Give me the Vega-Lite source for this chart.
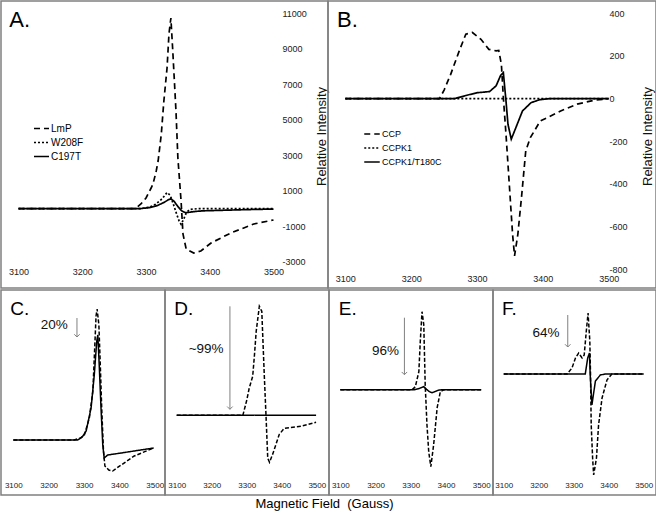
{
  "$schema": "https://vega.github.io/schema/vega-lite/v6.json",
  "padding": 0,
  "config": {
    "view": {"stroke": "#808080", "strokeWidth": 1.5},
    "font": "Liberation Sans",
    "axis": {"grid": false, "domain": false, "ticks": false, "labelFont": "Liberation Sans", "labelColor": "#222", "labelOverlap": false, "labelFlush": false, "titleFont": "Liberation Sans", "titleFontWeight": "normal", "titleColor": "#111", "labelExpr": "toString(datum.value)"},
    "legend": {"symbolType": "stroke", "symbolStrokeColor": "#000", "symbolStrokeWidth": 1.6, "labelFont": "Liberation Sans", "labelColor": "#000", "rowPadding": 0, "labelOffset": 1, "padding": 0},
    "title": {"font": "Liberation Sans", "fontWeight": "normal", "color": "#000"},
    "text": {"font": "Liberation Sans", "color": "#000"}
  },
  "title": {"text": "Magnetic Field\u00a0 (Gauss)", "orient": "bottom", "anchor": "middle", "fontSize": 13, "offset": 2, "dx": -4},
  "spacing": 0,
  "resolve": {"scale": {"strokeDash": "independent"}, "legend": {"strokeDash": "independent"}},
  "vconcat": [
    {
      "spacing": 0,
      "bounds": "flush",
      "resolve": {"scale": {"strokeDash": "independent"}, "legend": {"strokeDash": "independent"}},
      "hconcat": [
        {
          "width": 327, "height": 287,
          "layer": [
            {
              "data": {"values": [
                {"series": "LmP", "gauss": 3100, "intensity": 0}, {"series": "LmP", "gauss": 3150, "intensity": 0}, {"series": "LmP", "gauss": 3200, "intensity": 0}, {"series": "LmP", "gauss": 3250, "intensity": 0}, {"series": "LmP", "gauss": 3283, "intensity": 0}, {"series": "LmP", "gauss": 3292, "intensity": 265}, {"series": "LmP", "gauss": 3300, "intensity": 602}, {"series": "LmP", "gauss": 3308, "intensity": 1165}, {"series": "LmP", "gauss": 3311, "intensity": 1390}, {"series": "LmP", "gauss": 3316, "intensity": 2122}, {"series": "LmP", "gauss": 3319, "intensity": 2685}, {"series": "LmP", "gauss": 3324, "intensity": 4205}, {"series": "LmP", "gauss": 3328, "intensity": 6062}, {"series": "LmP", "gauss": 3333, "intensity": 7920}, {"series": "LmP", "gauss": 3336, "intensity": 9834}, {"series": "LmP", "gauss": 3339, "intensity": 10734}, {"series": "LmP", "gauss": 3342, "intensity": 8876}, {"series": "LmP", "gauss": 3347, "intensity": 5499}, {"series": "LmP", "gauss": 3350, "intensity": 2854}, {"series": "LmP", "gauss": 3355, "intensity": 433}, {"series": "LmP", "gauss": 3358, "intensity": -1424}, {"series": "LmP", "gauss": 3363, "intensity": -2268}, {"series": "LmP", "gauss": 3375, "intensity": -2494}, {"series": "LmP", "gauss": 3386, "intensity": -2381}, {"series": "LmP", "gauss": 3402, "intensity": -1931}, {"series": "LmP", "gauss": 3433, "intensity": -1368}, {"series": "LmP", "gauss": 3469, "intensity": -861}, {"series": "LmP", "gauss": 3500, "intensity": -636},
                {"series": "W208F", "gauss": 3100, "intensity": 0}, {"series": "W208F", "gauss": 3290, "intensity": 0}, {"series": "W208F", "gauss": 3305, "intensity": 80}, {"series": "W208F", "gauss": 3315, "intensity": 250}, {"series": "W208F", "gauss": 3325, "intensity": 550}, {"series": "W208F", "gauss": 3333, "intensity": 910}, {"series": "W208F", "gauss": 3338, "intensity": 750}, {"series": "W208F", "gauss": 3343, "intensity": 250}, {"series": "W208F", "gauss": 3348, "intensity": -300}, {"series": "W208F", "gauss": 3352, "intensity": -700}, {"series": "W208F", "gauss": 3355, "intensity": -880}, {"series": "W208F", "gauss": 3359, "intensity": -600}, {"series": "W208F", "gauss": 3363, "intensity": -250}, {"series": "W208F", "gauss": 3368, "intensity": -50}, {"series": "W208F", "gauss": 3380, "intensity": 0}, {"series": "W208F", "gauss": 3500, "intensity": 0},
                {"series": "C197T", "gauss": 3100, "intensity": 0}, {"series": "C197T", "gauss": 3290, "intensity": 0}, {"series": "C197T", "gauss": 3305, "intensity": 60}, {"series": "C197T", "gauss": 3318, "intensity": 180}, {"series": "C197T", "gauss": 3328, "intensity": 350}, {"series": "C197T", "gauss": 3335, "intensity": 500}, {"series": "C197T", "gauss": 3339, "intensity": 560}, {"series": "C197T", "gauss": 3344, "intensity": 420}, {"series": "C197T", "gauss": 3350, "intensity": 120}, {"series": "C197T", "gauss": 3356, "intensity": -120}, {"series": "C197T", "gauss": 3362, "intensity": -230}, {"series": "C197T", "gauss": 3368, "intensity": -200}, {"series": "C197T", "gauss": 3378, "intensity": -150}, {"series": "C197T", "gauss": 3390, "intensity": -120}, {"series": "C197T", "gauss": 3420, "intensity": -90}, {"series": "C197T", "gauss": 3460, "intensity": -50}, {"series": "C197T", "gauss": 3500, "intensity": -20}
              ]},
              "mark": {"type": "line", "strokeWidth": 1.7, "color": "#000"},
              "encoding": {
                "x": {"field": "gauss", "type": "quantitative", "scale": {"domain": [3072.5, 3585.5], "nice": false, "zero": false}, "axis": {"values": [3100, 3200, 3300, 3400, 3500], "title": null, "offset": -21, "labelPadding": 0, "labelFontSize": 9}},
                "y": {"field": "intensity", "type": "quantitative", "scale": {"domain": [-4464, 11692], "nice": false, "zero": false}, "axis": {"orient": "right", "values": [-3000, -1000, 1000, 3000, 5000, 7000, 9000, 11000], "offset": -46, "labelPadding": 0, "labelFontSize": 9, "title": "Relative Intensity", "titleAngle": 270, "titleFontSize": 13, "titleX": 39, "titleY": 135, "titleAlign": "center", "titleBaseline": "middle"}},
                "strokeDash": {"field": "series", "type": "nominal", "scale": {"domain": ["LmP", "W208F", "C197T"], "range": [[6, 4], [2, 2], [1, 0]]}, "legend": {"title": null, "orient": "none", "legendX": 32, "legendY": 119, "symbolSize": 225, "labelFontSize": 10}}
              }
            },
            {
              "data": {"values": [{"label": "A."}]},
              "mark": {"type": "text", "fontSize": 22, "align": "left", "baseline": "alphabetic"},
              "encoding": {"x": {"datum": 3085.5, "type": "quantitative"}, "y": {"datum": 10228, "type": "quantitative"}, "text": {"field": "label"}}
            }
          ]
        },
        {
          "width": 328, "height": 287,
          "layer": [
            {
              "data": {"values": [
                {"series": "CCP", "gauss": 3100, "intensity": 0}, {"series": "CCP", "gauss": 3150, "intensity": 0}, {"series": "CCP", "gauss": 3200, "intensity": 0}, {"series": "CCP", "gauss": 3243, "intensity": 0}, {"series": "CCP", "gauss": 3250, "intensity": 40}, {"series": "CCP", "gauss": 3260, "intensity": 114}, {"series": "CCP", "gauss": 3273, "intensity": 224}, {"series": "CCP", "gauss": 3283, "intensity": 302}, {"series": "CCP", "gauss": 3293, "intensity": 310}, {"series": "CCP", "gauss": 3306, "intensity": 278}, {"series": "CCP", "gauss": 3318, "intensity": 231}, {"series": "CCP", "gauss": 3329, "intensity": 224}, {"series": "CCP", "gauss": 3333, "intensity": 226}, {"series": "CCP", "gauss": 3337, "intensity": 161}, {"series": "CCP", "gauss": 3340, "intensity": 5}, {"series": "CCP", "gauss": 3344, "intensity": -167}, {"series": "CCP", "gauss": 3349, "intensity": -401}, {"series": "CCP", "gauss": 3354, "intensity": -636}, {"series": "CCP", "gauss": 3357, "intensity": -737}, {"series": "CCP", "gauss": 3362, "intensity": -636}, {"series": "CCP", "gauss": 3368, "intensity": -448}, {"series": "CCP", "gauss": 3374, "intensity": -245}, {"series": "CCP", "gauss": 3381, "intensity": -183}, {"series": "CCP", "gauss": 3396, "intensity": -105}, {"series": "CCP", "gauss": 3427, "intensity": -58}, {"series": "CCP", "gauss": 3452, "intensity": -26}, {"series": "CCP", "gauss": 3477, "intensity": -8}, {"series": "CCP", "gauss": 3500, "intensity": 0},
                {"series": "CCPK1", "gauss": 3100, "intensity": 0}, {"series": "CCPK1", "gauss": 3500, "intensity": 0},
                {"series": "CCPK1/T180C", "gauss": 3100, "intensity": 0}, {"series": "CCPK1/T180C", "gauss": 3266, "intensity": 0}, {"series": "CCPK1/T180C", "gauss": 3286, "intensity": 17}, {"series": "CCPK1/T180C", "gauss": 3301, "intensity": 28}, {"series": "CCPK1/T180C", "gauss": 3319, "intensity": 33}, {"series": "CCPK1/T180C", "gauss": 3329, "intensity": 60}, {"series": "CCPK1/T180C", "gauss": 3336, "intensity": 110}, {"series": "CCPK1/T180C", "gauss": 3340, "intensity": 122}, {"series": "CCPK1/T180C", "gauss": 3344, "intensity": -11}, {"series": "CCPK1/T180C", "gauss": 3347, "intensity": -120}, {"series": "CCPK1/T180C", "gauss": 3352, "intensity": -190}, {"series": "CCPK1/T180C", "gauss": 3359, "intensity": -136}, {"series": "CCPK1/T180C", "gauss": 3369, "intensity": -58}, {"series": "CCPK1/T180C", "gauss": 3382, "intensity": -19}, {"series": "CCPK1/T180C", "gauss": 3395, "intensity": -5}, {"series": "CCPK1/T180C", "gauss": 3410, "intensity": 0}, {"series": "CCPK1/T180C", "gauss": 3500, "intensity": 0}
              ]},
              "mark": {"type": "line", "strokeWidth": 1.7, "color": "#000"},
              "encoding": {
                "x": {"field": "gauss", "type": "quantitative", "scale": {"domain": [3073.7, 3571.8], "nice": false, "zero": false}, "axis": {"values": [3100, 3200, 3300, 3400, 3500], "title": null, "offset": -14, "labelPadding": 0, "labelFontSize": 9}},
                "y": {"field": "intensity", "type": "quantitative", "scale": {"domain": [-887.7, 457.7], "nice": false, "zero": false}, "axis": {"orient": "right", "values": [-800, -600, -400, -200, 0, 200, 400], "offset": -47, "labelPadding": 0, "labelFontSize": 9, "title": "Relative Intensity", "titleAngle": 270, "titleFontSize": 13, "titleX": 38, "titleY": 135, "titleAlign": "center", "titleBaseline": "middle"}},
                "strokeDash": {"field": "series", "type": "nominal", "scale": {"domain": ["CCP", "CCPK1", "CCPK1/T180C"], "range": [[6, 4], [2, 2], [1, 0]]}, "legend": {"title": null, "orient": "none", "legendX": 35, "legendY": 124, "symbolSize": 240, "labelFontSize": 9}}
              }
            },
            {
              "data": {"values": [{"label": "B."}]},
              "mark": {"type": "text", "fontSize": 22, "align": "left", "baseline": "alphabetic"},
              "encoding": {"x": {"datum": 3087.4, "type": "quantitative"}, "y": {"datum": 335.8, "type": "quantitative"}, "text": {"field": "label"}}
            }
          ]
        }
      ]
    },
    {
      "spacing": 0,
      "bounds": "flush",
      "resolve": {"scale": {"strokeDash": "independent"}, "legend": {"strokeDash": "independent"}},
      "hconcat": [
        {
          "width": 164, "height": 205,
          "layer": [
            {
              "data": {"values": [
                {"series": "trace 1", "gauss": 3100, "intensity": 0}, {"series": "trace 1", "gauss": 3200, "intensity": 0}, {"series": "trace 1", "gauss": 3272, "intensity": 0}, {"series": "trace 1", "gauss": 3290, "intensity": 2}, {"series": "trace 1", "gauss": 3301, "intensity": 5}, {"series": "trace 1", "gauss": 3315, "intensity": 22}, {"series": "trace 1", "gauss": 3325, "intensity": 49}, {"series": "trace 1", "gauss": 3329, "intensity": 82}, {"series": "trace 1", "gauss": 3334, "intensity": 124}, {"series": "trace 1", "gauss": 3337, "intensity": 131}, {"series": "trace 1", "gauss": 3342, "intensity": 115}, {"series": "trace 1", "gauss": 3346, "intensity": 75}, {"series": "trace 1", "gauss": 3350, "intensity": 32}, {"series": "trace 1", "gauss": 3355, "intensity": -11}, {"series": "trace 1", "gauss": 3359, "intensity": -26}, {"series": "trace 1", "gauss": 3370, "intensity": -30}, {"series": "trace 1", "gauss": 3381, "intensity": -31}, {"series": "trace 1", "gauss": 3405, "intensity": -25}, {"series": "trace 1", "gauss": 3442, "intensity": -16}, {"series": "trace 1", "gauss": 3497, "intensity": -8},
                {"series": "trace 2", "gauss": 3100, "intensity": 0}, {"series": "trace 2", "gauss": 3200, "intensity": 0}, {"series": "trace 2", "gauss": 3282, "intensity": 0}, {"series": "trace 2", "gauss": 3295, "intensity": 3}, {"series": "trace 2", "gauss": 3306, "intensity": 9}, {"series": "trace 2", "gauss": 3320, "intensity": 32}, {"series": "trace 2", "gauss": 3329, "intensity": 65}, {"series": "trace 2", "gauss": 3336, "intensity": 99}, {"series": "trace 2", "gauss": 3339, "intensity": 105}, {"series": "trace 2", "gauss": 3343, "intensity": 75}, {"series": "trace 2", "gauss": 3348, "intensity": 32}, {"series": "trace 2", "gauss": 3353, "intensity": -5}, {"series": "trace 2", "gauss": 3357, "intensity": -18}, {"series": "trace 2", "gauss": 3367, "intensity": -15}, {"series": "trace 2", "gauss": 3405, "intensity": -13}, {"series": "trace 2", "gauss": 3497, "intensity": -8}
              ]},
              "mark": {"type": "line", "strokeWidth": 1.5, "color": "#000"},
              "encoding": {
                "x": {"field": "gauss", "type": "quantitative", "scale": {"domain": [3065.2, 3529], "nice": false, "zero": false}, "axis": {"values": [3100, 3200, 3300, 3400, 3500], "title": null, "offset": -14, "labelPadding": 0, "labelFontSize": 8}},
                "y": {"field": "intensity", "type": "quantitative", "scale": {"domain": [-55, 150], "nice": false, "zero": false}, "axis": null},
                "strokeDash": {"field": "series", "type": "nominal", "scale": {"domain": ["trace 1", "trace 2"], "range": [[4, 2], [1, 0]]}, "legend": null}
              }
            },
            {
              "data": {"values": [{"label": "C."}]},
              "mark": {"type": "text", "fontSize": 19, "align": "left", "baseline": "alphabetic"},
              "encoding": {"x": {"datum": 3091.5, "type": "quantitative"}, "y": {"datum": 124.7, "type": "quantitative", "axis": null}, "text": {"field": "label"}}
            },
            {
              "data": {"values": [{"label": "20%"}]},
              "mark": {"type": "rule", "color": "#808080", "strokeWidth": 1},
              "encoding": {"x": {"datum": 3280, "type": "quantitative"}, "y": {"datum": 122, "type": "quantitative", "axis": null}, "y2": {"datum": 103}}
            },
            {
              "data": {"values": [{"label": "20%"}]},
              "mark": {"type": "point", "shape": "M-1,-1L0,0L1,-1", "filled": false, "stroke": "#808080", "strokeWidth": 1, "size": 30, "opacity": 1},
              "encoding": {"x": {"datum": 3280, "type": "quantitative"}, "y": {"datum": 103, "type": "quantitative", "axis": null}}
            },
            {
              "data": {"values": [{"label": "20%"}]},
              "mark": {"type": "text", "fontSize": 13.5, "color": "#111", "align": "center", "baseline": "middle"},
              "encoding": {"x": {"datum": 3216, "type": "quantitative"}, "y": {"datum": 115, "type": "quantitative", "axis": null}, "text": {"field": "label"}}
            }
          ]
        },
        {
          "width": 164, "height": 205,
          "layer": [
            {
              "data": {"values": [
                {"series": "trace 1", "gauss": 3100, "intensity": 0}, {"series": "trace 1", "gauss": 3289, "intensity": 0}, {"series": "trace 1", "gauss": 3300, "intensity": 15}, {"series": "trace 1", "gauss": 3307, "intensity": 27}, {"series": "trace 1", "gauss": 3317, "intensity": 39}, {"series": "trace 1", "gauss": 3322, "intensity": 60}, {"series": "trace 1", "gauss": 3327, "intensity": 84}, {"series": "trace 1", "gauss": 3336, "intensity": 109}, {"series": "trace 1", "gauss": 3343, "intensity": 104}, {"series": "trace 1", "gauss": 3350, "intensity": 41}, {"series": "trace 1", "gauss": 3355, "intensity": 0}, {"series": "trace 1", "gauss": 3360, "intensity": -43}, {"series": "trace 1", "gauss": 3365, "intensity": -47}, {"series": "trace 1", "gauss": 3374, "intensity": -39}, {"series": "trace 1", "gauss": 3393, "intensity": -19}, {"series": "trace 1", "gauss": 3407, "intensity": -13}, {"series": "trace 1", "gauss": 3455, "intensity": -11}, {"series": "trace 1", "gauss": 3498, "intensity": -7},
                {"series": "trace 2", "gauss": 3100, "intensity": 0}, {"series": "trace 2", "gauss": 3498, "intensity": 0}
              ]},
              "mark": {"type": "line", "strokeWidth": 1.5, "color": "#000"},
              "encoding": {
                "x": {"field": "gauss", "type": "quantitative", "scale": {"domain": [3066.6, 3534.9], "nice": false, "zero": false}, "axis": {"values": [3100, 3200, 3300, 3400, 3500], "title": null, "offset": -14, "labelPadding": 0, "labelFontSize": 8}},
                "y": {"field": "intensity", "type": "quantitative", "scale": {"domain": [-79.7, 125.3], "nice": false, "zero": false}, "axis": null},
                "strokeDash": {"field": "series", "type": "nominal", "scale": {"domain": ["trace 1", "trace 2"], "range": [[4, 2], [1, 0]]}, "legend": null}
              }
            },
            {
              "data": {"values": [{"label": "D."}]},
              "mark": {"type": "text", "fontSize": 19, "align": "left", "baseline": "alphabetic"},
              "encoding": {"x": {"datum": 3093.2, "type": "quantitative"}, "y": {"datum": 100, "type": "quantitative", "axis": null}, "text": {"field": "label"}}
            },
            {
              "data": {"values": [{"label": "~99%"}]},
              "mark": {"type": "rule", "color": "#808080", "strokeWidth": 1},
              "encoding": {"x": {"datum": 3252, "type": "quantitative"}, "y": {"datum": 109, "type": "quantitative", "axis": null}, "y2": {"datum": 6}}
            },
            {
              "data": {"values": [{"label": "~99%"}]},
              "mark": {"type": "point", "shape": "M-1,-1L0,0L1,-1", "filled": false, "stroke": "#808080", "strokeWidth": 1, "size": 30, "opacity": 1},
              "encoding": {"x": {"datum": 3252, "type": "quantitative"}, "y": {"datum": 6, "type": "quantitative", "axis": null}}
            },
            {
              "data": {"values": [{"label": "~99%"}]},
              "mark": {"type": "text", "fontSize": 13.5, "color": "#111", "align": "center", "baseline": "middle"},
              "encoding": {"x": {"datum": 3184, "type": "quantitative"}, "y": {"datum": 66.6, "type": "quantitative", "axis": null}, "text": {"field": "label"}}
            }
          ]
        },
        {
          "width": 164, "height": 205,
          "layer": [
            {
              "data": {"values": [
                {"series": "trace 1", "gauss": 3100, "intensity": 0}, {"series": "trace 1", "gauss": 3304, "intensity": 0}, {"series": "trace 1", "gauss": 3313, "intensity": 3}, {"series": "trace 1", "gauss": 3323, "intensity": 18}, {"series": "trace 1", "gauss": 3327, "intensity": 48}, {"series": "trace 1", "gauss": 3332, "intensity": 78}, {"series": "trace 1", "gauss": 3337, "intensity": 65}, {"series": "trace 1", "gauss": 3341, "intensity": 5}, {"series": "trace 1", "gauss": 3346, "intensity": -35}, {"series": "trace 1", "gauss": 3351, "intensity": -62}, {"series": "trace 1", "gauss": 3357, "intensity": -77}, {"series": "trace 1", "gauss": 3365, "intensity": -55}, {"series": "trace 1", "gauss": 3375, "intensity": -18}, {"series": "trace 1", "gauss": 3384, "intensity": -2}, {"series": "trace 1", "gauss": 3395, "intensity": 0}, {"series": "trace 1", "gauss": 3500, "intensity": 0},
                {"series": "trace 2", "gauss": 3100, "intensity": 0}, {"series": "trace 2", "gauss": 3310, "intensity": 0}, {"series": "trace 2", "gauss": 3322, "intensity": 1}, {"series": "trace 2", "gauss": 3337, "intensity": 3}, {"series": "trace 2", "gauss": 3346, "intensity": 0}, {"series": "trace 2", "gauss": 3353, "intensity": -2}, {"series": "trace 2", "gauss": 3360, "intensity": -3}, {"series": "trace 2", "gauss": 3368, "intensity": -2}, {"series": "trace 2", "gauss": 3378, "intensity": -0.5}, {"series": "trace 2", "gauss": 3390, "intensity": 0}, {"series": "trace 2", "gauss": 3500, "intensity": 0}
              ]},
              "mark": {"type": "line", "strokeWidth": 1.5, "color": "#000"},
              "encoding": {
                "x": {"field": "gauss", "type": "quantitative", "scale": {"domain": [3067.9, 3533.5], "nice": false, "zero": false}, "axis": {"values": [3100, 3200, 3300, 3400, 3500], "title": null, "offset": -14, "labelPadding": 0, "labelFontSize": 8}},
                "y": {"field": "intensity", "type": "quantitative", "scale": {"domain": [-105.3, 99.7], "nice": false, "zero": false}, "axis": null},
                "strokeDash": {"field": "series", "type": "nominal", "scale": {"domain": ["trace 1", "trace 2"], "range": [[4, 2], [1, 0]]}, "legend": null}
              }
            },
            {
              "data": {"values": [{"label": "E."}]},
              "mark": {"type": "text", "fontSize": 19, "align": "left", "baseline": "alphabetic"},
              "encoding": {"x": {"datum": 3095.5, "type": "quantitative"}, "y": {"datum": 74.4, "type": "quantitative", "axis": null}, "text": {"field": "label"}}
            },
            {
              "data": {"values": [{"label": "96%"}]},
              "mark": {"type": "rule", "color": "#808080", "strokeWidth": 1},
              "encoding": {"x": {"datum": 3282, "type": "quantitative"}, "y": {"datum": 72, "type": "quantitative", "axis": null}, "y2": {"datum": 15}}
            },
            {
              "data": {"values": [{"label": "96%"}]},
              "mark": {"type": "point", "shape": "M-1,-1L0,0L1,-1", "filled": false, "stroke": "#808080", "strokeWidth": 1, "size": 30, "opacity": 1},
              "encoding": {"x": {"datum": 3282, "type": "quantitative"}, "y": {"datum": 15, "type": "quantitative", "axis": null}}
            },
            {
              "data": {"values": [{"label": "96%"}]},
              "mark": {"type": "text", "fontSize": 13.5, "color": "#111", "align": "center", "baseline": "middle"},
              "encoding": {"x": {"datum": 3228, "type": "quantitative"}, "y": {"datum": 39, "type": "quantitative", "axis": null}, "text": {"field": "label"}}
            }
          ]
        },
        {
          "width": 163, "height": 205,
          "layer": [
            {
              "data": {"values": [
                {"series": "trace 1", "gauss": 3100, "intensity": 0}, {"series": "trace 1", "gauss": 3281, "intensity": 0}, {"series": "trace 1", "gauss": 3295, "intensity": 6}, {"series": "trace 1", "gauss": 3305, "intensity": 16}, {"series": "trace 1", "gauss": 3314, "intensity": 21}, {"series": "trace 1", "gauss": 3324, "intensity": 16}, {"series": "trace 1", "gauss": 3330, "intensity": 19}, {"series": "trace 1", "gauss": 3336, "intensity": 43}, {"series": "trace 1", "gauss": 3341, "intensity": 61}, {"series": "trace 1", "gauss": 3346, "intensity": 33}, {"series": "trace 1", "gauss": 3348, "intensity": 0}, {"series": "trace 1", "gauss": 3350, "intensity": -51}, {"series": "trace 1", "gauss": 3354, "intensity": -84}, {"series": "trace 1", "gauss": 3357, "intensity": -101}, {"series": "trace 1", "gauss": 3365, "intensity": -84}, {"series": "trace 1", "gauss": 3371, "intensity": -51}, {"series": "trace 1", "gauss": 3381, "intensity": -24}, {"series": "trace 1", "gauss": 3395, "intensity": -6}, {"series": "trace 1", "gauss": 3409, "intensity": 0}, {"series": "trace 1", "gauss": 3500, "intensity": 0},
                {"series": "trace 2", "gauss": 3100, "intensity": 0}, {"series": "trace 2", "gauss": 3333, "intensity": 0}, {"series": "trace 2", "gauss": 3340, "intensity": 16}, {"series": "trace 2", "gauss": 3345, "intensity": 21}, {"series": "trace 2", "gauss": 3347, "intensity": 0}, {"series": "trace 2", "gauss": 3352, "intensity": -31}, {"series": "trace 2", "gauss": 3362, "intensity": -7}, {"series": "trace 2", "gauss": 3376, "intensity": -1}, {"series": "trace 2", "gauss": 3390, "intensity": 0}, {"series": "trace 2", "gauss": 3500, "intensity": 0}
              ]},
              "mark": {"type": "line", "strokeWidth": 1.5, "color": "#000"},
              "encoding": {
                "x": {"field": "gauss", "type": "quantitative", "scale": {"domain": [3069.4, 3535.1], "nice": false, "zero": false}, "axis": {"values": [3100, 3200, 3300, 3400, 3500], "title": null, "offset": -14, "labelPadding": 0, "labelFontSize": 8}},
                "y": {"field": "intensity", "type": "quantitative", "scale": {"domain": [-121, 84], "nice": false, "zero": false}, "axis": null},
                "strokeDash": {"field": "series", "type": "nominal", "scale": {"domain": ["trace 1", "trace 2"], "range": [[4, 2], [1, 0]]}, "legend": null}
              }
            },
            {
              "data": {"values": [{"label": "F."}]},
              "mark": {"type": "text", "fontSize": 19, "align": "left", "baseline": "alphabetic"},
              "encoding": {"x": {"datum": 3095.1, "type": "quantitative"}, "y": {"datum": 58.7, "type": "quantitative", "axis": null}, "text": {"field": "label"}}
            },
            {
              "data": {"values": [{"label": "64%"}]},
              "mark": {"type": "rule", "color": "#808080", "strokeWidth": 1},
              "encoding": {"x": {"datum": 3283, "type": "quantitative"}, "y": {"datum": 59, "type": "quantitative", "axis": null}, "y2": {"datum": 27}}
            },
            {
              "data": {"values": [{"label": "64%"}]},
              "mark": {"type": "point", "shape": "M-1,-1L0,0L1,-1", "filled": false, "stroke": "#808080", "strokeWidth": 1, "size": 30, "opacity": 1},
              "encoding": {"x": {"datum": 3283, "type": "quantitative"}, "y": {"datum": 27, "type": "quantitative", "axis": null}}
            },
            {
              "data": {"values": [{"label": "64%"}]},
              "mark": {"type": "text", "fontSize": 13.5, "color": "#111", "align": "center", "baseline": "middle"},
              "encoding": {"x": {"datum": 3221, "type": "quantitative"}, "y": {"datum": 41, "type": "quantitative", "axis": null}, "text": {"field": "label"}}
            }
          ]
        }
      ]
    }
  ]
}
